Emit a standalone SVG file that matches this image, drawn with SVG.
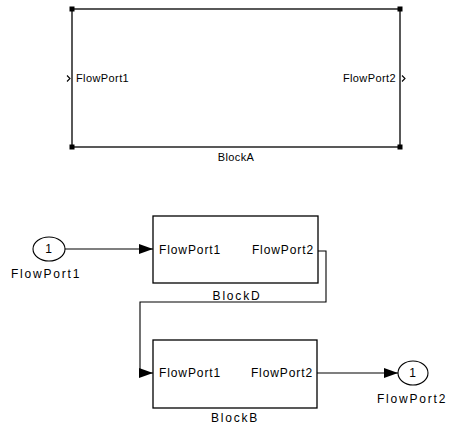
<svg xmlns="http://www.w3.org/2000/svg" width="449" height="428" viewBox="0 0 449 428">
<style>
.blk{fill:#fff;stroke:#000;stroke-width:1.3}
.t{font-family:"Liberation Sans",Arial,sans-serif;font-size:11px;fill:#000;letter-spacing:0.4px}
.t2{font-family:"Liberation Sans",Arial,sans-serif;font-size:12px;fill:#000;letter-spacing:0.9px}
.t3{font-family:"Liberation Sans",Arial,sans-serif;font-size:12px;fill:#000;letter-spacing:1.8px}
.c{stroke:#000;stroke-width:1.1;fill:none}
.h{fill:#000}
</style>
<defs>
<marker id="ah" markerWidth="14" markerHeight="10" refX="14" refY="5" orient="auto" markerUnits="userSpaceOnUse">
<path d="M0,0 L14,5 L0,10 Z" fill="#000"/>
</marker>
</defs>
<rect width="449" height="428" fill="#fff"/>
<g id="BlockA">
<rect class="blk" x="72" y="9" width="328" height="138"/>
<rect class="h" x="69.5" y="6.5" width="5" height="5"/>
<rect class="h" x="397.5" y="6.5" width="5" height="5"/>
<rect class="h" x="69.5" y="144.5" width="5" height="5"/>
<rect class="h" x="397.5" y="144.5" width="5" height="5"/>
<path class="c" d="M67,75.5 L70,78.5 L67,81.5"/>
<path class="c" d="M402,75.5 L405,78.5 L402,81.5"/>
<text class="t" x="76" y="82">FlowPort1</text>
<text class="t" x="396" y="82" text-anchor="end">FlowPort2</text>
<text class="t" x="236" y="161" text-anchor="middle">BlockA</text>
</g>
<g id="BlockD">
<rect class="blk" x="153" y="216" width="165" height="67"/>
<text class="t2" x="159" y="254">FlowPort1</text>
<text class="t2" x="314" y="254" text-anchor="end">FlowPort2</text>
<text class="t3" x="237" y="300" text-anchor="middle">BlockD</text>
</g>
<g id="BlockB">
<rect class="blk" x="153" y="340" width="164" height="68"/>
<text class="t2" x="159" y="377">FlowPort1</text>
<text class="t2" x="313" y="377" text-anchor="end">FlowPort2</text>
<text class="t3" x="235" y="422" text-anchor="middle">BlockB</text>
</g>
<g id="In1">
<ellipse class="c" cx="49" cy="249" rx="16" ry="12"/>
<text class="t2" x="49" y="253" text-anchor="middle">1</text>
<text class="t3" x="46" y="278" text-anchor="middle">FlowPort1</text>
</g>
<g id="Out2">
<ellipse class="c" cx="413" cy="373" rx="15" ry="12"/>
<text class="t2" x="413" y="377" text-anchor="middle">1</text>
<text class="t3" x="412" y="403" text-anchor="middle">FlowPort2</text>
</g>
<g id="connectors">
<path class="c" d="M65,249 L153,249" marker-end="url(#ah)"/>
<path class="c" d="M318,251 L326,251 L326,302 L140,302 L140,373 L153,373" marker-end="url(#ah)"/>
<path class="c" d="M317,373 L398,373" marker-end="url(#ah)"/>
</g>
</svg>
